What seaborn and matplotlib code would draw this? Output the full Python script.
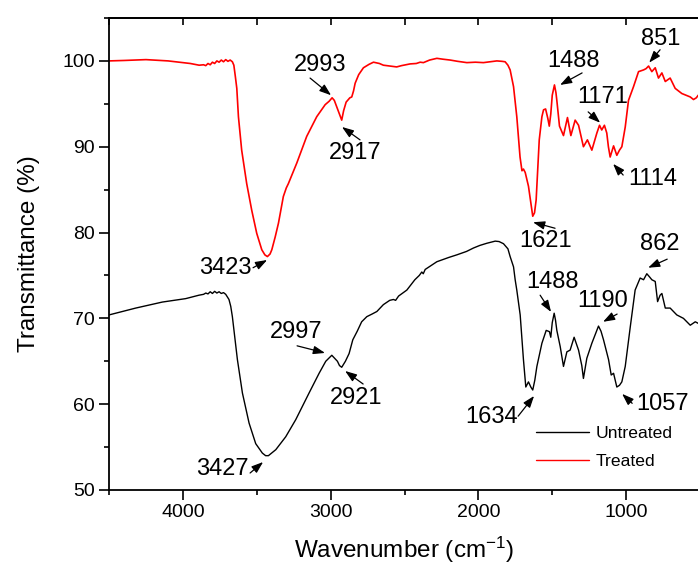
import matplotlib
matplotlib.use("Agg")
import matplotlib.pyplot as plt
import pandas as pd
import seaborn as sns
from matplotlib.ticker import MultipleLocator

# ---------------- data ----------------
treated_wn = [4500, 4400, 4250, 4100, 3950, 3890, 3860, 3845, 3830, 3815, 3800, 3785,
              3770, 3755, 3740, 3725, 3710, 3695, 3680, 3665, 3655, 3645, 3635, 3624,
              3602, 3568, 3534, 3500, 3466, 3445, 3428, 3410, 3398, 3375, 3353, 3320,
              3300, 3286, 3229, 3162, 3094, 3037, 3010, 2990, 2975, 2960, 2940, 2925,
              2912, 2895, 2870, 2857, 2845, 2834, 2810, 2778, 2740, 2710, 2670, 2643,
              2600, 2553, 2520, 2462, 2420, 2394, 2372, 2330, 2281, 2240, 2191, 2140,
              2078, 2020, 1966, 1920, 1875, 1840, 1819, 1800, 1785, 1762, 1740, 1718,
              1705, 1695, 1683, 1661, 1645, 1632, 1620, 1609, 1588, 1570, 1559, 1545,
              1530, 1520, 1510, 1500, 1485, 1475, 1469, 1451, 1424, 1397, 1374, 1345,
              1322, 1289, 1262, 1232, 1198, 1180, 1165, 1147, 1131, 1120, 1108, 1085,
              1063, 1045, 1029, 1006, 984, 950, 916, 882, 865, 848, 826, 803, 781, 758,
              735, 702, 668, 623, 566, 544, 525, 512, 500]
treated_t = [100.0, 100.05, 100.15, 100.0, 99.7, 99.5, 99.55, 99.45, 99.7, 99.55, 99.85, 99.7,
             100.0, 99.85, 100.1, 99.9, 100.15, 99.95, 100.1, 99.9, 99.5, 98.2, 96.8, 93.5,
             89.6, 85.7, 82.6, 79.9, 78.0, 77.4, 77.2, 77.5, 78.0, 79.5, 81.1, 84.2,
             85.2, 85.7, 88.1, 91.2, 93.5, 94.9, 95.3, 95.7, 95.4, 94.7, 93.8, 93.1,
             94.2, 95.2, 95.7, 95.8, 96.5, 97.4, 98.4, 99.2, 99.6, 99.85, 99.7, 99.5,
             99.4, 99.3, 99.45, 99.65, 99.7, 99.85, 99.8, 100.1, 100.3, 100.2, 100.1, 99.95,
             99.8, 99.85, 99.8, 99.9, 100.0, 99.95, 99.9, 99.5, 98.95, 97.0, 93.5, 88.8,
             87.2, 87.4, 87.0, 85.4, 83.5, 81.9, 82.3, 83.8, 90.8, 93.5, 94.3, 94.4,
             93.3, 92.4, 93.8, 96.0, 97.2, 96.3, 95.4, 92.4, 91.3, 93.4, 91.3, 93.1,
             92.5, 90.0, 90.8, 89.6, 91.6, 92.5, 91.95, 92.5, 91.6, 90.0, 88.8, 90.1,
             89.0, 89.6, 90.0, 92.3, 95.4, 97.0, 98.75, 98.95, 99.1, 99.4, 98.75, 99.2, 98.0, 98.6,
             97.6, 98.0, 96.8, 96.2, 95.8, 95.5, 95.7, 96.0, 96.1]

untreated_wn = [4500, 4319, 4139, 3981, 3891, 3860, 3845, 3830, 3815, 3800, 3785, 3770,
                3755, 3740, 3725, 3710, 3699, 3688, 3676, 3665, 3654, 3631, 3597, 3552,
                3507, 3462, 3440, 3421, 3400, 3371, 3304, 3236, 3146, 3078, 3033, 2992,
                2970, 2954, 2940, 2925, 2900, 2875, 2850, 2820, 2790, 2755, 2720, 2687,
                2643, 2600, 2575, 2560, 2540, 2484, 2430, 2400, 2383, 2373, 2360, 2281,
                2200, 2146, 2080, 2033, 1990, 1943, 1886, 1860, 1830, 1800, 1785, 1762,
                1751, 1740, 1717, 1695, 1679, 1670, 1661, 1645, 1632, 1618, 1604, 1570,
                1541, 1519, 1510, 1500, 1487, 1478, 1469, 1446, 1424, 1401, 1379, 1352,
                1322, 1300, 1289, 1266, 1232, 1187, 1170, 1153, 1119, 1101, 1085, 1063,
                1045, 1029, 1006, 972, 939, 905, 882, 860, 840, 826, 803, 787, 770, 758,
                735, 702, 657, 612, 566, 532, 510, 500]
untreated_t = [70.4, 71.2, 71.9, 72.3, 72.7, 72.8, 72.95, 72.85, 73.1, 72.9, 73.15, 72.95,
               73.1, 72.9, 73.0, 72.8, 72.5, 72.2, 71.4, 70.2, 68.6, 65.2, 61.3, 57.8,
               55.4, 54.3, 54.0, 54.0, 54.3, 54.7, 56.2, 58.2, 61.3, 63.6, 65.0, 65.7,
               65.3, 65.0, 64.5, 64.3, 65.0, 65.9, 67.5, 68.5, 69.6, 70.2, 70.5, 70.8,
               71.6, 72.1, 72.2, 72.1, 72.6, 73.3, 74.5, 75.0, 75.4, 75.2, 75.7, 76.6,
               77.1, 77.4, 77.8, 78.2, 78.5, 78.75, 79.0, 78.95, 78.7, 78.1, 77.2, 76.0,
               74.5, 73.3, 70.4, 65.2, 62.0, 62.3, 62.6, 62.0, 61.65, 62.8, 64.4, 67.1,
               68.6, 68.45, 67.8, 69.5, 70.6, 69.8, 68.6, 66.7, 64.4, 66.1, 66.3, 67.8,
               66.3, 64.5, 63.0, 65.35, 67.1, 69.1, 68.5, 67.5, 65.2, 63.4, 63.6, 62.0,
               62.2, 62.6, 64.4, 69.0, 73.3, 74.7, 74.5, 75.2, 74.8, 74.5, 74.3, 71.95, 72.7, 72.9,
               71.2, 71.2, 70.4, 70.0, 69.2, 69.6, 69.4, 69.5]

series_names = ["Untreated", "Treated"]
x_ticks = [4000, 3000, 2000, 1000]
y_ticks = [50, 60, 70, 80, 90, 100]

# peak labels: text, label position, arrow tail, arrow head (data coords)
peak_labels = [
    ("3423", (3715, 75.9), (3525, 75.9), (3430, 76.8)),
    ("2993", (3071, 99.5), (3139, 98.0), (2997, 96.0)),
    ("2917", (2835, 89.3), (2801, 90.8), (2923, 92.3)),
    ("1621", (1548, 79.0), (1481, 80.5), (1630, 81.2)),
    ("1488", (1359, 100.0), (1298, 98.6), (1447, 97.2)),
    ("1171", (1156, 95.8), (1257, 94.06), (1176, 92.8)),
    ("1114", (817, 86.25), (1020, 86.7), (1088, 88.0)),
    ("851", (763, 102.6), (770, 101.3), (844, 99.8)),
    ("3427", (3735, 52.45), (3545, 51.98), (3457, 53.26)),
    ("2997", (3234, 68.4), (3227, 66.8), (3038, 65.97)),
    ("2921", (2828, 60.7), (2780, 62.35), (2902, 63.87)),
    ("1634", (1914, 58.5), (1731, 58.6), (1623, 60.96)),
    ("1488", (1501, 74.24), (1582, 72.7), (1508, 70.75)),
    ("1190", (1156, 72.0), (1061, 70.5), (1156, 69.6)),
    ("1057", (756, 60.0), (959, 60.1), (1027, 61.2)),
    ("862", (770, 78.67), (722, 76.9), (851, 75.9)),
]

# ---------------- style ----------------
sns.set_style("ticks")
plt.rcParams["font.family"] = ["Liberation Sans", "DejaVu Sans"]
plt.rcParams["mathtext.fontset"] = "custom"
plt.rcParams["mathtext.rm"] = "Liberation Sans"
plt.rcParams["mathtext.it"] = "Liberation Sans:italic"
plt.rcParams["mathtext.bf"] = "Liberation Sans:bold"
for key in ["text.color", "axes.labelcolor", "xtick.color", "ytick.color",
            "axes.edgecolor"]:
    plt.rcParams[key] = "black"

fig = plt.figure(figsize=(6.98, 5.66), dpi=100)
ax = fig.add_axes([109 / 698, 76 / 566, 591 / 698, 472 / 566])

df_u = pd.DataFrame({"wn": untreated_wn, "T": untreated_t})
df_t = pd.DataFrame({"wn": treated_wn, "T": treated_t})

sns.lineplot(data=df_u, x="wn", y="T", color="black", lw=1.0, estimator=None,
             sort=False, ax=ax, label=series_names[0])
sns.lineplot(data=df_t, x="wn", y="T", color="#ff0000", lw=1.2, estimator=None,
             sort=False, ax=ax, label=series_names[1])

ax.set_xlim(4500, 500)
ax.set_ylim(50, 105)
ax.set_xticks(x_ticks)
ax.set_yticks(y_ticks)
ax.xaxis.set_minor_locator(MultipleLocator(500))
ax.yaxis.set_minor_locator(MultipleLocator(5))
ax.tick_params(which="major", direction="out", length=7, width=1.2, labelsize=14,
               pad=3, color="black", labelcolor="black")
ax.tick_params(which="minor", direction="out", length=3.5, width=1.2, color="black")
for s in ["left", "bottom", "top"]:
    ax.spines[s].set_linewidth(1.3)
    ax.spines[s].set_color("black")
ax.spines["right"].set_visible(False)

top = ax.secondary_xaxis("top")
top.set_xticks(x_ticks)
top.xaxis.set_minor_locator(MultipleLocator(500))
top.tick_params(which="both", direction="in", length=5, width=1.2, labeltop=False,
                color="black")
top.spines["top"].set_linewidth(1.3)
top.spines["top"].set_color("black")

ax.set_xlabel("Wavenumber (cm$^{-1}$)", fontsize=17.5, labelpad=10, color="black")
ax.set_ylabel("Transmittance (%)", fontsize=17.5, labelpad=16, color="black")

for text, tpos, tail, head in peak_labels:
    ax.text(tpos[0], tpos[1], text, fontsize=17, ha="center", va="center", color="black")
    ax.annotate("", xy=head, xytext=tail,
                arrowprops=dict(arrowstyle="-|>,head_length=0.7,head_width=0.25",
                                color="black", lw=0.9, shrinkA=0, shrinkB=0))

leg = ax.legend(frameon=False, loc="upper left", fontsize=12.6,
                bbox_to_anchor=((536 - 109) / 591, (490 - 426) / 472),
                borderpad=0, borderaxespad=0, handlelength=3.0,
                handletextpad=0.4, labelspacing=0.72)
for line in leg.get_lines():
    line.set_linewidth(1.0)
for t in leg.get_texts():
    t.set_color("black")

fig.savefig("out.png", dpi=100)
